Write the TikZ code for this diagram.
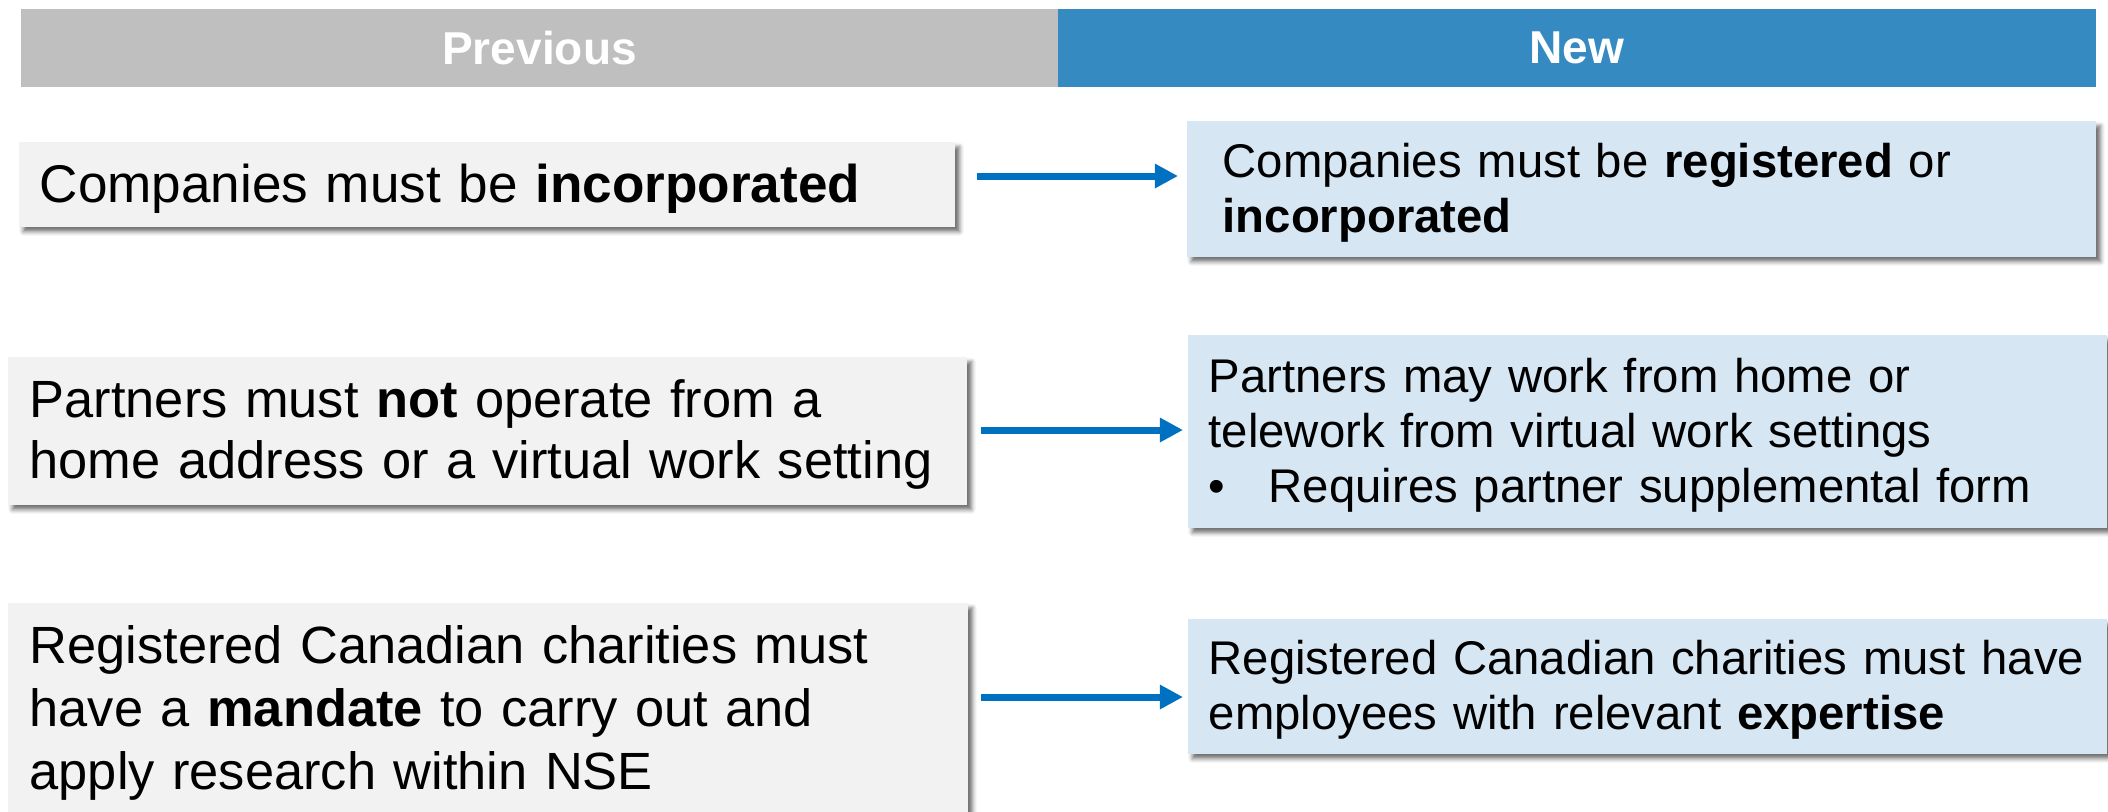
\documentclass[tikz,border=0pt]{standalone}
\usepackage{fontspec}
\setmainfont{Liberation Sans}
\usetikzlibrary{arrows.meta,shadows.blur}

\definecolor{hdrgrey}{HTML}{BFBFBF}
\definecolor{hdrblue}{HTML}{358BC1}
\definecolor{oldfill}{HTML}{F2F2F2}
\definecolor{newfill}{HTML}{D6E6F3}
\definecolor{arrowblue}{HTML}{0070C0}

\newcommand{\topstrut}{\rule{0pt}{0.88em}}

\begin{document}
\begin{tikzpicture}[x=0.01cm,y=-0.01cm,
  header/.style={anchor=north west,inner sep=0pt,minimum height=0.78cm,text=white,
    font=\fontsize{13.1pt}{15pt}\selectfont\bfseries},
  cardshadow/.style={blur shadow={shadow xshift=0.045cm,shadow yshift=-0.05cm,
    shadow blur radius=0.04cm,shadow opacity=55}},
  oldbox/.style={anchor=north west,fill=oldfill,align=left,inner ysep=0pt,cardshadow,
    font=\fontsize{14.9pt}{17.3pt}\selectfont,execute at begin node=\topstrut},
  newbox/.style={anchor=north west,fill=newfill,align=left,inner ysep=0pt,cardshadow,
    font=\fontsize{13.45pt}{15.65pt}\selectfont,execute at begin node=\topstrut},
  flow/.style={draw=arrowblue,line width=0.07cm,-{Triangle[length=0.23cm,width=0.23cm]}}
]
\useasboundingbox (0,0) rectangle (2108,811);

% column headers
\node[header,fill=hdrgrey,minimum width=10.37cm] (hprev) at (20,8) {Previous};
\node[header,fill=hdrblue,minimum width=10.38cm] (hnew) at (1057,8) {New};

% previous rules
\node[oldbox,inner xsep=0.21cm,text width=8.94cm,minimum height=0.85cm,
  font=\fontsize{15.1pt}{17.4pt}\selectfont] (old1) at (18,141)
  {Companies must be \textbf{incorporated}};
\node[oldbox,inner xsep=0.22cm,text width=9.15cm,minimum height=1.48cm] (old2) at (7,356)
  {Partners must \textbf{not} operate from a\\ home address or a virtual work setting};
\node[oldbox,inner xsep=0.22cm,text width=9.16cm,minimum height=2.12cm,
  font=\fontsize{14.9pt}{17.9pt}\selectfont] (old3) at (7,602)
  {Registered Canadian charities must\\ have a \textbf{mandate} to carry out and\\ apply research within NSE};

% new rules
\node[newbox,inner xsep=0.36cm,text width=8.37cm,minimum height=1.36cm] (new1) at (1186,120)
  {Companies must be \textbf{registered} or\\ \textbf{incorporated}};
\node[newbox,inner xsep=0.21cm,text width=8.77cm,minimum height=1.93cm] (new2) at (1187,334)
  {Partners may work from home or\\ telework from virtual work settings\\
   \makebox[0.6cm][l]{•}Requires partner supplemental form};
\node[newbox,inner xsep=0.21cm,text width=8.77cm,minimum height=1.35cm] (new3) at (1187,618)
  {\mbox{Registered Canadian charities must have}\\ employees with relevant \textbf{expertise}};

% arrows
\coordinate (row1) at (0,176);
\coordinate (row2) at (0,430);
\coordinate (row3) at (0,697);
\draw[flow,shorten <=0.21cm,shorten >=0.08cm] (old1.east |- row1) -- (new1.west |- row1);
\draw[flow,shorten <=0.13cm,shorten >=0.04cm] (old2.east |- row2) -- (new2.west |- row2);
\draw[flow,shorten <=0.12cm,shorten >=0.04cm] (old3.east |- row3) -- (new3.west |- row3);
\end{tikzpicture}
\end{document}
